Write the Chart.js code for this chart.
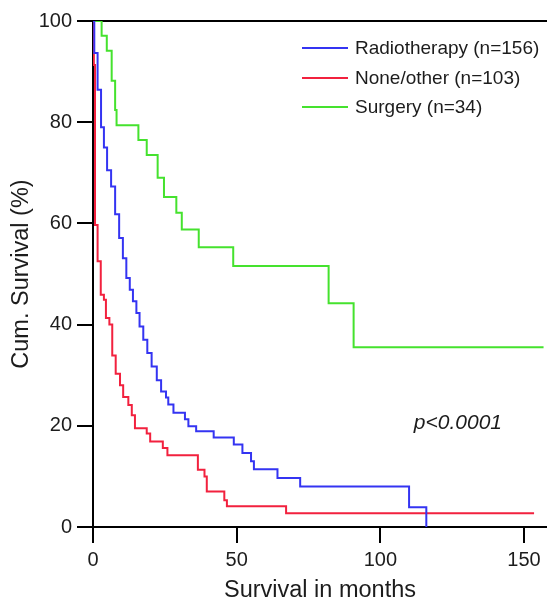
<!DOCTYPE html>
<html lang="en">
<head>
    <meta charset="UTF-8">
    <title>Cum. Survival</title>
    <style>
        html, body { margin: 0; padding: 0; background: #fff; }
        #wrap { width: 547px; height: 602px; }
    </style>
</head>
<body>
    <div id="wrap"><canvas id="myChart" width="547" height="602"></canvas></div>

    <script src="https://cdn.jsdelivr.net/npm/chart.js@4.4.0/dist/chart.umd.min.js"></script>
    <script>
        // Kaplan-Meier steps: time in months, survival in %
        var radioTimes = [0, 0.45, 1.6, 2.8, 3.8, 4.9, 6.3, 7.7, 9.1, 10.4, 11.6, 12.8, 13.9, 15.1, 16.2, 17.5,
            18.9, 20.4, 22.2, 23.7, 25.4, 26.2, 28.0, 32.0, 33.2, 35.9, 42.0, 49.0, 52.0, 55.0, 56.0, 64.2, 72.1, 110.0, 116.0];
        var radioSurv = [100, 93.7, 86.4, 79, 75, 70.5, 67.3, 61.8, 57.1, 53.1, 49.2, 46.9, 44.6, 42.3, 39.6, 37,
            34.4, 31.7, 29, 26.8, 25.6, 24.2, 22.6, 21.3, 19.9, 18.9, 17.7, 16.3, 14.6, 13.0, 11.4, 9.7, 8.0, 3.9, 0];

        var noneTimes = [0, 0.3, 0.7, 1.6, 2.7, 3.8, 4.5, 5.7, 6.7, 7.9, 9.4, 10.5, 12.3, 13.5, 14.6, 18.7, 19.9,
            24.3, 25.9, 36.5, 38.8, 39.6, 45.7, 46.6, 67.2, 153.5];
        var noneSurv = [100, 91.3, 59.7, 52.5, 45.9, 44.9, 41.3, 40, 33.9, 30.3, 28, 25.7, 24.1, 22.1, 19.5, 18.5, 16.9,
            15.6, 14.2, 11.3, 10, 7.0, 5.3, 4.1, 2.7, 2.7];

        var surgeryTimes = [0, 3.0, 4.8, 6.5, 7.7, 8.2, 15.8, 18.7, 22.5, 24.7, 29.0, 30.9, 36.8, 48.8, 82.0, 90.7, 156.8];
        var surgerySurv = [100, 97.1, 94.1, 88.2, 82.4, 79.4, 76.5, 73.5, 69, 65.2, 62.1, 58.8, 55.3, 51.6, 44.2, 35.5, 35.5];

        var seriesLabels = ["Radiotherapy (n=156)", "None/other (n=103)", "Surgery (n=34)"];
        var xTicks = [0, 50, 100, 150];
        var yTicks = [0, 20, 40, 60, 80, 100];

        var FONT = "'Liberation Sans', Arial, Helvetica, sans-serif";
        var INK = "#1c1c1c";

        function toPoints(times, surv) {
            return times.map(function (t, i) { return { x: t, y: surv[i] }; });
        }

        var data = {
            datasets: [
                { label: seriesLabels[0], data: toPoints(radioTimes, radioSurv), borderColor: "#3434f2" },
                { label: seriesLabels[1], data: toPoints(noneTimes, noneSurv), borderColor: "#f2213e" },
                { label: seriesLabels[2], data: toPoints(surgeryTimes, surgerySurv), borderColor: "#45e22e" }
            ]
        };
        data.datasets.forEach(function (ds) {
            ds.stepped = "before";
            ds.borderWidth = 2;
            ds.pointRadius = 0;
            ds.fill = false;
        });

        // legend and p value drawn straight on the canvas
        var extras = {
            id: "extras",
            afterDraw: function (chart) {
                var ctx = chart.ctx;
                ctx.save();
                var rows = [48, 78, 107];
                chart.data.datasets.forEach(function (ds, i) {
                    ctx.strokeStyle = ds.borderColor;
                    ctx.lineWidth = 2;
                    ctx.beginPath();
                    ctx.moveTo(302, rows[i]);
                    ctx.lineTo(348, rows[i]);
                    ctx.stroke();
                    ctx.fillStyle = INK;
                    ctx.font = "19px " + FONT;
                    ctx.textBaseline = "middle";
                    ctx.textAlign = "left";
                    ctx.fillText(ds.label, 355, rows[i] + 1);
                });
                var xs = chart.scales.x, ys = chart.scales.y;
                ctx.font = "italic 21px " + FONT;
                ctx.textAlign = "center";
                ctx.fillText("p<0.0001", xs.getPixelForValue(127), ys.getPixelForValue(20.6));
                ctx.restore();
            }
        };

        function createChart() {
            var ctx = document.getElementById("myChart").getContext("2d");
            new Chart(ctx, {
                type: "line",
                data: data,
                plugins: [extras],
                options: {
                    responsive: false,
                    animation: false,
                    layout: { padding: { top: 21, right: 0, left: 0, bottom: 0 } },
                    plugins: {
                        legend: { display: false },
                        tooltip: { enabled: false }
                    },
                    scales: {
                        x: {
                            type: "linear",
                            min: 0,
                            max: 158,
                            afterBuildTicks: function (s) { s.ticks = xTicks.map(function (v) { return { value: v }; }); },
                            afterFit: function (s) { s.height = 75; },
                            grid: { drawOnChartArea: false, tickLength: 16, tickColor: "#000", lineWidth: 2 },
                            border: { display: true, color: "#000", width: 2 },
                            ticks: { color: INK, font: { family: FONT, size: 20 }, padding: 5, maxRotation: 0 },
                            title: {
                                display: true,
                                text: "Survival in months",
                                color: INK,
                                font: { family: FONT, size: 23.5, lineHeight: 1 },
                                padding: { top: 0, bottom: 0 }
                            }
                        },
                        y: {
                            min: 0,
                            max: 100,
                            afterBuildTicks: function (s) { s.ticks = yTicks.map(function (v) { return { value: v }; }); },
                            afterFit: function (s) { s.width = 93; },
                            grid: {
                                drawOnChartArea: true,
                                tickLength: 16,
                                tickColor: "#000",
                                lineWidth: 2,
                                color: function (c) { return c.tick && c.tick.value === 100 ? "#000" : "rgba(0,0,0,0)"; }
                            },
                            border: { display: true, color: "#000", width: 2 },
                            ticks: { color: INK, font: { family: FONT, size: 20 }, padding: 5 },
                            title: {
                                display: true,
                                text: "Cum. Survival (%)",
                                color: INK,
                                font: { family: FONT, size: 23.5, lineHeight: 1 },
                                padding: { top: 10, bottom: 0 }
                            }
                        }
                    }
                }
            });
        }

        createChart();
    </script>
</body>
</html>
